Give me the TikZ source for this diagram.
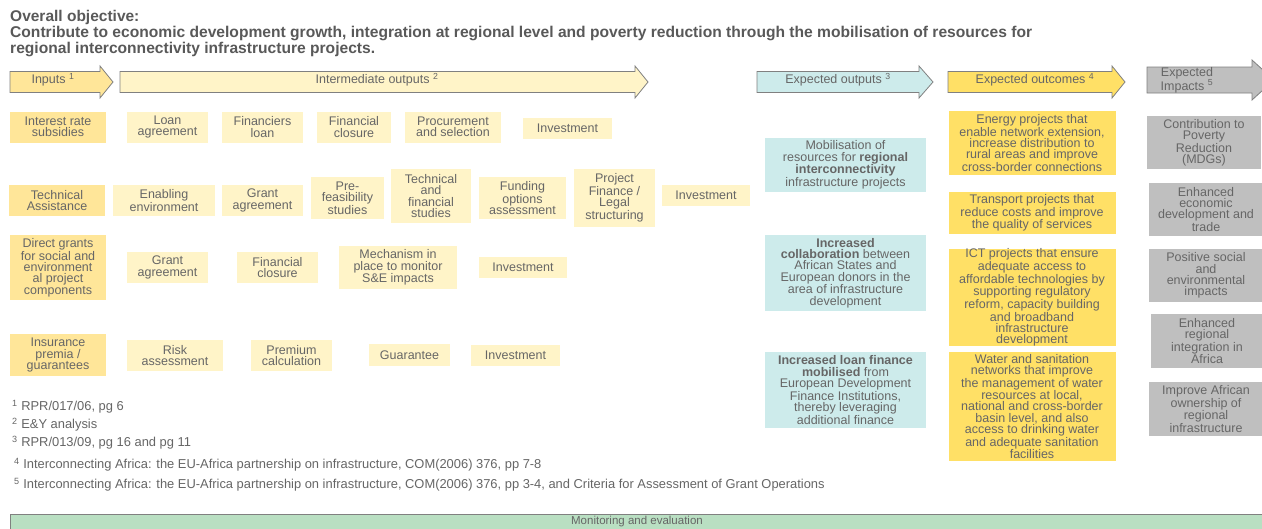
\documentclass[tikz,border=0pt]{standalone}
\usepackage{fontspec}
\setmainfont{Liberation Sans}

\definecolor{inputGold}{HTML}{FFE699}
\definecolor{interPale}{HTML}{FFF4C8}
\definecolor{outputTeal}{HTML}{CDEBEB}
\definecolor{outcomeGold}{HTML}{FFE066}
\definecolor{impactGrey}{HTML}{BFBFBF}
\definecolor{monitorGreen}{HTML}{B9DFC2}
\definecolor{textGrey}{HTML}{666666}
\definecolor{titleGrey}{HTML}{595959}
\definecolor{edgeGrey}{HTML}{808080}

\newcommand{\boxFont}{\fontsize{12.5}{11.3}\selectfont}

\begin{document}
\begin{tikzpicture}[x=1pt, y=-1pt,
    box/.style={rectangle, inner sep=0pt, align=center, text=textGrey, font=\boxFont},
    sz/.style 2 args={minimum width=#1, minimum height=#2},
    inBox/.style={box, fill=inputGold},
    midBox/.style={box, fill=interPale},
    outBox/.style={box, fill=outputTeal},
    comeBox/.style={box, fill=outcomeGold},
    impBox/.style={box, fill=impactGrey},
    hdrArrow/.style={draw=edgeGrey, line width=0.8pt},
    hdrText/.style={inner sep=0pt, align=center, text=textGrey, font=\boxFont},
    note/.style={anchor=west, inner sep=0pt, text=textGrey, font=\fontsize{12.9}{12}\selectfont}]

    % page frame
    \clip (0,0) rectangle (1262,528);
    \fill[white] (0,0) rectangle (1262,528);

    % Objective
    \node[anchor=west, inner sep=0pt, text=titleGrey, font=\fontsize{15.5}{14}\selectfont\bfseries] (objTitle) at (10,17) {Overall objective:};
    \node[anchor=west, inner sep=0pt, align=left, text=titleGrey, font=\fontsize{15.6}{12.8}\selectfont\bfseries] (objText) at (10,41.5)
        {Contribute to economic development growth, integration at regional level and poverty reduction through the mobilisation of resources for\\regional interconnectivity infrastructure  projects.};

    % Header arrows
    \draw[hdrArrow, fill=inputGold] (10,71.5) -- (100,71.5) -- (100,66) -- (113,82) -- (100,98) -- (100,92.5) -- (10,92.5) -- cycle;
    \draw[hdrArrow, fill=interPale] (120,71.5) -- (635,71.5) -- (635,66) -- (648,82) -- (635,98) -- (635,92.5) -- (120,92.5) -- cycle;
    \draw[hdrArrow, fill=outputTeal] (757,71.5) -- (919,71.5) -- (919,66) -- (933,82) -- (919,98) -- (919,92.5) -- (757,92.5) -- cycle;
    \draw[hdrArrow, fill=outcomeGold] (948,71.5) -- (1112,71.5) -- (1112,66) -- (1125,82) -- (1112,98) -- (1112,92.5) -- (948,92.5) -- cycle;
    \draw[hdrArrow, fill=impactGrey] (1147,67) -- (1252,67) -- (1252,60) -- (1274,80) -- (1252,100) -- (1252,93) -- (1147,93) -- cycle;

    \node[hdrText] (inputsHdr) at (53,80) {Inputs \textsuperscript{1}};
    \node[hdrText] (interHdr) at (377,80) {Intermediate outputs \textsuperscript{2}};
    \node[hdrText] (outputsHdr) at (838,80) {Expected outputs \textsuperscript{3}};
    \node[hdrText] (outcomesHdr) at (1035,80) {Expected outcomes \textsuperscript{4}};
    \node[hdrText] (impactsHdr) at (1187,80) {Expected\\Impacts \textsuperscript{5}};

    % Inputs and intermediate outputs, row 1
    \node[inBox, sz={96}{31}] (interestRate) at (58,127) {Interest rate\\subsidies};
    \node[midBox, sz={81}{31}] (loanAgree) at (167.5,127) {Loan\\agreement};
    \node[midBox, sz={81}{31}] (financiersLoan) at (262.5,127) {Financiers\\loan};
    \node[midBox, sz={74}{31}] (finClosureA) at (354,127) {Financial\\closure};
    \node[midBox, sz={96}{31}] (procurement) at (453,127) {Procurement\\and selection};
    \node[midBox, sz={89}{21.5}] (investA) at (567.5,128.25) {Investment};

    % row 2
    \node[inBox, sz={96}{31}] (techAssist) at (57,200.5) {Technical\\Assistance};
    \node[midBox, sz={102}{31}] (enabling) at (164,200.5) {Enabling\\environment};
    \node[midBox, sz={81}{31}] (grantAgreeA) at (262.5,200.5) {Grant\\agreement};
    \node[midBox, sz={73}{42}] (preFeas) at (347.5,198) {Pre-\\feasibility\\studies};
    \node[midBox, sz={80}{54}] (techFin) at (431,196) {Technical\\and\\financial\\studies};
    \node[midBox, sz={87}{42}] (funding) at (522.5,198) {Funding\\options\\assessment};
    \node[midBox, sz={81}{58}] (projFinance) at (614.5,198) {Project\\Finance /\\Legal\\structuring};
    \node[midBox, sz={88}{21}] (investB) at (706,195.5) {Investment};

    % row 3
    \node[inBox, sz={96}{65}] (directGrants) at (58,267.5) {Direct grants\\for social and\\environment\\al project\\components};
    \node[midBox, sz={81}{31}] (grantAgreeB) at (167.5,267.5) {Grant\\agreement};
    \node[midBox, sz={81}{31}] (finClosureB) at (277.5,267.5) {Financial\\closure};
    \node[midBox, sz={118}{43}] (mechanism) at (398,267.5) {Mechanism in\\place to monitor\\S\&E impacts};
    \node[midBox, sz={88}{21}] (investC) at (523,267.5) {Investment};

    % row 4
    \node[inBox, sz={96}{42}] (insurance) at (58,355) {Insurance\\premia /\\guarantees};
    \node[midBox, sz={96}{31}] (riskAssess) at (175,355.5) {Risk\\assessment};
    \node[midBox, sz={81}{31}] (premium) at (291.5,355.5) {Premium\\calculation};
    \node[midBox, sz={81}{22}] (guarantee) at (409.5,355) {Guarantee};
    \node[midBox, sz={89}{21}] (investD) at (515.5,355.5) {Investment};

    % Expected outputs
    \node[outBox, sz={161}{54}] (mobilisation) at (845.5,165) {Mobilisation of\\resources for \textbf{regional}\\\textbf{interconnectivity}\\infrastructure projects};
    \node[outBox, sz={161}{76}] (collaboration) at (845.5,273) {\textbf{Increased}\\\textbf{collaboration} between\\African States and\\European donors in the\\area of infrastructure\\development};
    \node[outBox, sz={161}{76}] (loanFinance) at (845.5,390) {\textbf{Increased loan finance}\\\textbf{mobilised} from\\European Development\\Finance Institutions,\\thereby leveraging\\additional finance};

    % Expected outcomes
    \node[comeBox, sz={167}{64}] (energy) at (1032,143) {Energy projects that\\enable network extension,\\increase distribution to\\rural areas  and improve\\cross-border connections};
    \node[comeBox, sz={167}{42}] (transport) at (1032,213) {Transport projects that\\reduce costs and improve\\the quality of services};
    \node[comeBox, sz={167}{97}] (ict) at (1032,297.5) {ICT projects that ensure\\adequate access to\\affordable technologies by\\supporting regulatory\\reform, capacity building\\and broadband\\infrastructure\\development};
    \node[comeBox, sz={167}{109}] (water) at (1032,406.5) {Water and sanitation\\networks  that improve\\the management of water\\resources at local,\\national and cross-border\\basin level, and also\\access to drinking water\\and adequate sanitation\\facilities};

    % Expected impacts
    \node[impBox, sz={114}{53}] (poverty) at (1204,142.5) {Contribution to\\Poverty\\Reduction\\(MDGs)};
    \node[impBox, sz={114}{53}] (econDev) at (1206,209.5) {Enhanced\\economic\\development and\\trade};
    \node[impBox, sz={114}{53}] (social) at (1206,275.5) {Positive social\\and\\environmental\\impacts};
    \node[impBox, sz={112}{54}] (regional) at (1207,341) {Enhanced\\regional\\integration in\\Africa};
    \node[impBox, sz={114}{54}] (ownership) at (1206,409) {Improve African\\ownership of\\regional\\infrastructure};

    % Footnotes
    \node[note] (noteA) at (12,407) {\textsuperscript{1} RPR/017/06, pg 6};
    \node[note] (noteB) at (12,425) {\textsuperscript{2} E\&Y analysis};
    \node[note] (noteC) at (12,443) {\textsuperscript{3} RPR/013/09, pg 16 and pg 11};
    \node[note] (noteD) at (14,465) {\textsuperscript{4} Interconnecting Africa: the EU-Africa partnership on infrastructure, COM(2006)  376, pp 7-8};
    \node[note] (noteE) at (14,485) {\textsuperscript{5} Interconnecting Africa: the EU-Africa partnership on infrastructure, COM(2006)  376, pp 3-4, and Criteria  for Assessment of Grant Operations};

    % Monitoring bar
    \draw[draw=edgeGrey, line width=1pt, fill=monitorGreen] (10,514.5) rectangle (1275,540);
    \node[hdrText, font=\fontsize{11.5}{11}\selectfont] (monitoring) at (637,522) {Monitoring and evaluation};
\end{tikzpicture}
\end{document}
